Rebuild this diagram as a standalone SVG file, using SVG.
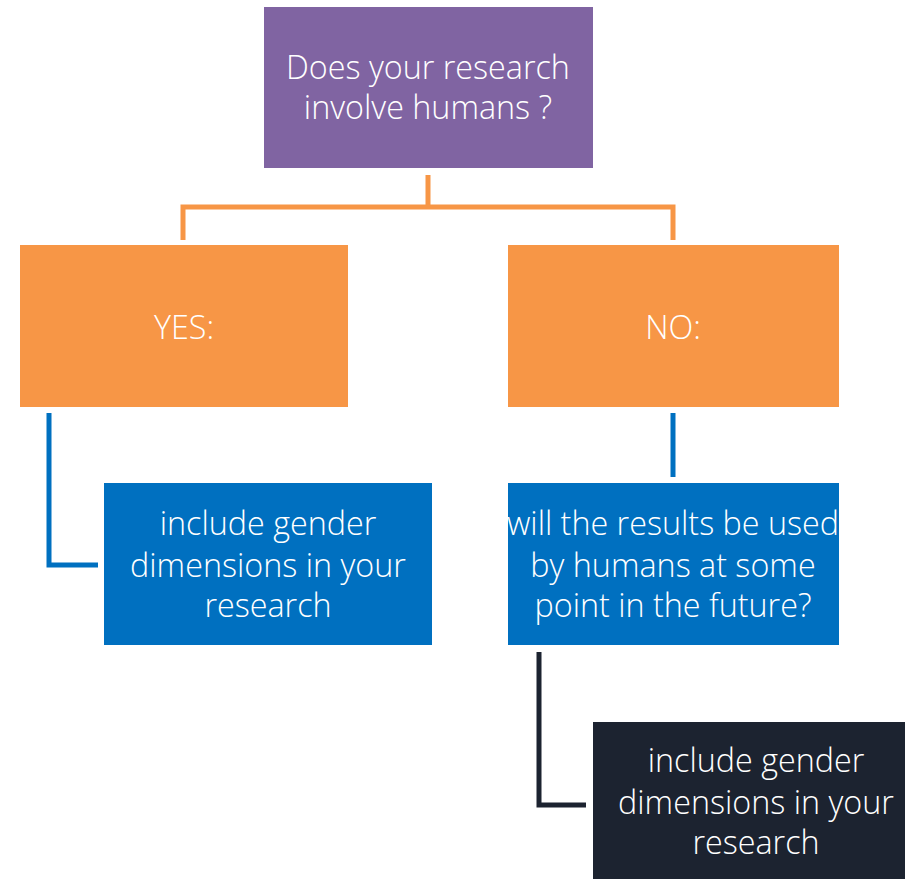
<svg xmlns="http://www.w3.org/2000/svg" width="905" height="879" viewBox="0 0 905 879">
<style>
.t{font-family:"Open Sans","Liberation Sans",sans-serif;font-weight:300;font-size:32.3px;fill:#ffffff;text-anchor:middle}
.c{fill:none;stroke-width:5;stroke-linejoin:miter}
</style>
<rect width="905" height="879" fill="#ffffff"/>
<g id="connectors">
<path class="c" stroke="#F79646" d="M428 175V207M183 240V207H673V240"/>
<path class="c" stroke="#0070C0" d="M49 413V565H98"/>
<path class="c" stroke="#0070C0" d="M673 413V477"/>
<path class="c" stroke="#1C2330" d="M539 652V805H586"/>
</g>
<g id="q1">
<rect x="264" y="7" width="329" height="161" fill="#8064A2"/>
<text class="t" x="428" y="79">Does your research</text>
<text class="t" x="428" y="119">involve humans ?</text>
</g>
<g id="yes">
<rect x="20" y="245" width="328" height="162" fill="#F79646"/>
<text class="t" x="184" y="339">YES:</text>
</g>
<g id="no">
<rect x="508" y="245" width="331" height="162" fill="#F79646"/>
<text class="t" x="673" y="339">NO:</text>
</g>
<g id="include1">
<rect x="104" y="483" width="328" height="162" fill="#0070C0"/>
<text class="t" x="268" y="535">include gender</text>
<text class="t" x="268" y="577">dimensions in your</text>
<text class="t" x="268" y="617">research</text>
</g>
<g id="q2">
<rect x="508" y="483" width="331" height="162" fill="#0070C0"/>
<text class="t" x="673" y="535">will the results be used</text>
<text class="t" x="673" y="577">by humans at some</text>
<text class="t" x="673" y="617">point in the future?</text>
</g>
<g id="include2">
<rect x="593" y="722" width="312" height="157" fill="#1C2330"/>
<text class="t" x="756" y="772">include gender</text>
<text class="t" x="756" y="814">dimensions in your</text>
<text class="t" x="756" y="854">research</text>
</g>
</svg>
